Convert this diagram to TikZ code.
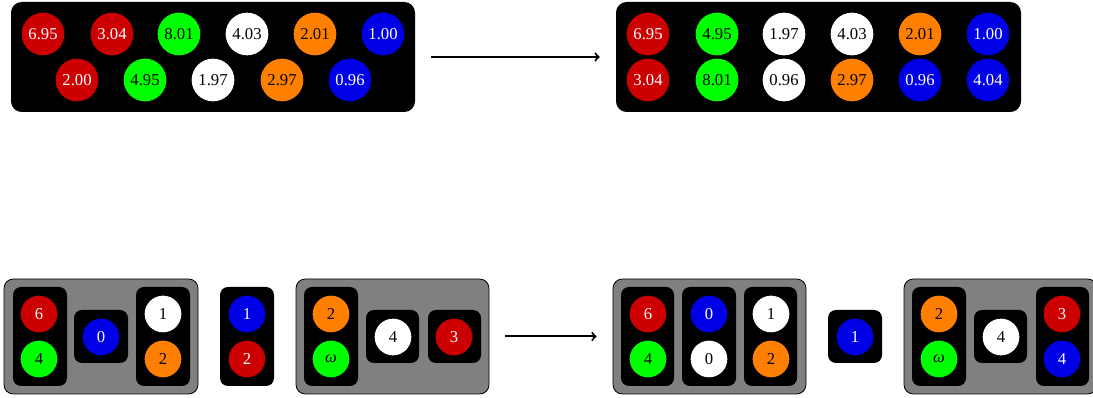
\documentclass[tikz,border=0pt]{standalone}
\usepackage{fontspec}
\setmainfont{Liberation Serif}
\usetikzlibrary{fit}

\definecolor{cred}{RGB}{204,0,0}
\definecolor{cgreen}{RGB}{0,255,0}
\definecolor{cblue}{RGB}{0,0,230}
\definecolor{corange}{RGB}{255,128,0}

\tikzset{
  ball/.style={circle, inner sep=0pt, minimum size=32pt, font=\fontsize{12.5}{14}\selectfont},
  small/.style={minimum size=27.5pt},
  redball/.style={ball, fill=cred, text=white},
  greenball/.style={ball, fill=cgreen, text=black},
  blueball/.style={ball, fill=cblue, text=white},
  whiteball/.style={ball, fill=white, text=black},
  orangeball/.style={ball, fill=corange, text=black},
  tray/.style={fill=black, rounded corners=6pt, inner sep=0pt},
  shelf/.style={fill=gray, draw=black, line width=0.6pt, rounded corners=7pt, inner sep=0pt},
  flow/.style={->, line width=1.5pt, shorten <=12pt, shorten >=12pt},
}

\begin{document}
\begin{tikzpicture}[x=0.75pt,y=0.75pt,yscale=-1,xscale=1]
\clip (0,0) rectangle (1093,398);

%Trays [top]
\node[tray, rounded corners=8pt, fit={(11,2) (415,112)}] (before) {};
\node[tray, rounded corners=8pt, fit={(616,2) (1021,112)}] (after) {};

% Balls before
\node[redball] (b1) at (43,34) {6.95};
\node[redball] (b2) at (112,34) {3.04};
\node[greenball] (b3) at (179,34) {8.01};
\node[whiteball] (b4) at (247,34) {4.03};
\node[orangeball] (b5) at (315,34) {2.01};
\node[blueball] (b6) at (383,34) {1.00};
\node[redball] (b7) at (77,80) {2.00};
\node[greenball] (b8) at (145,80) {4.95};
\node[whiteball] (b9) at (213,80) {1.97};
\node[orangeball] (b10) at (282,80) {2.97};
\node[blueball] (b11) at (350,80) {0.96};

% Balls after
\node[redball] (a1) at (648,34) {6.95};
\node[greenball] (a2) at (717,34) {4.95};
\node[whiteball] (a3) at (784,34) {1.97};
\node[whiteball] (a4) at (852,34) {4.03};
\node[orangeball] (a5) at (920,34) {2.01};
\node[blueball] (a6) at (988,34) {1.00};
\node[redball] (a7) at (648,80) {3.04};
\node[greenball] (a8) at (717,80) {8.01};
\node[whiteball] (a9) at (784,80) {0.96};
\node[orangeball] (a10) at (852,80) {2.97};
\node[blueball] (a11) at (920,80) {0.96};
\node[blueball] (a12) at (988,80) {4.04};

%Arrow [top]
\draw[flow] (before) -- (after);

%Shelves [bottom]
\node[shelf, fit={(4,279) (198,394)}] (gl1) {};
\node[shelf, fit={(296,279) (489,394)}] (gl2) {};
\node[shelf, fit={(613,279) (806,394)}] (gr1) {};
\node[shelf, fit={(904,279) (1097,394)}] (gr2) {};

% Trays left
\node[tray, fit={(13,287) (67,386)}] (tl1) {};
\node[tray, fit={(74,310) (128,363)}] (tl2) {};
\node[tray, fit={(136,287) (190,386)}] (tl3) {};
\node[tray, fit={(220,287) (274,386)}] (tl4) {};
\node[tray, fit={(304,287) (358,386)}] (tl5) {};
\node[tray, fit={(366,310) (419,363)}] (tl6) {};
\node[tray, fit={(428,310) (481,363)}] (tl7) {};

% Trays right
\node[tray, fit={(621,287) (674,386)}] (tr1) {};
\node[tray, fit={(682,287) (736,386)}] (tr2) {};
\node[tray, fit={(744,287) (797,386)}] (tr3) {};
\node[tray, fit={(828,310) (882,363)}] (tr4) {};
\node[tray, fit={(912,287) (966,386)}] (tr5) {};
\node[tray, fit={(974,310) (1027,363)}] (tr6) {};
\node[tray, fit={(1036,287) (1089,386)}] (tr7) {};

% Balls left
\node[redball, small] (l1) at (39,314) {6};
\node[greenball, small] (l2) at (39,359) {4};
\node[blueball, small] (l3) at (101,337) {0};
\node[whiteball, small] (l4) at (163,314) {1};
\node[orangeball, small] (l5) at (163,359) {2};
\node[blueball, small] (l6) at (247,314) {1};
\node[redball, small] (l7) at (247,359) {2};
\node[orangeball, small] (l8) at (331,314) {2};
\node[greenball, small] (l9) at (331,359) {\textit{ω}};
\node[whiteball, small] (l10) at (393,337) {4};
\node[redball, small] (l11) at (454,337) {3};

% Balls right
\node[redball, small] (r1) at (648,314) {6};
\node[greenball, small] (r2) at (648,359) {4};
\node[blueball, small] (r3) at (709,314) {0};
\node[whiteball, small] (r4) at (709,359) {0};
\node[whiteball, small] (r5) at (771,314) {1};
\node[orangeball, small] (r6) at (771,359) {2};
\node[blueball, small] (r7) at (855,337) {1};
\node[orangeball, small] (r8) at (939,314) {2};
\node[greenball, small] (r9) at (939,359) {\textit{ω}};
\node[whiteball, small] (r10) at (1001,337) {4};
\node[redball, small] (r11) at (1062,314) {3};
\node[blueball, small] (r12) at (1062,359) {4};

%Arrow [bottom]
\draw[flow] (gl2) -- (gr1);

\end{tikzpicture}
\end{document}
